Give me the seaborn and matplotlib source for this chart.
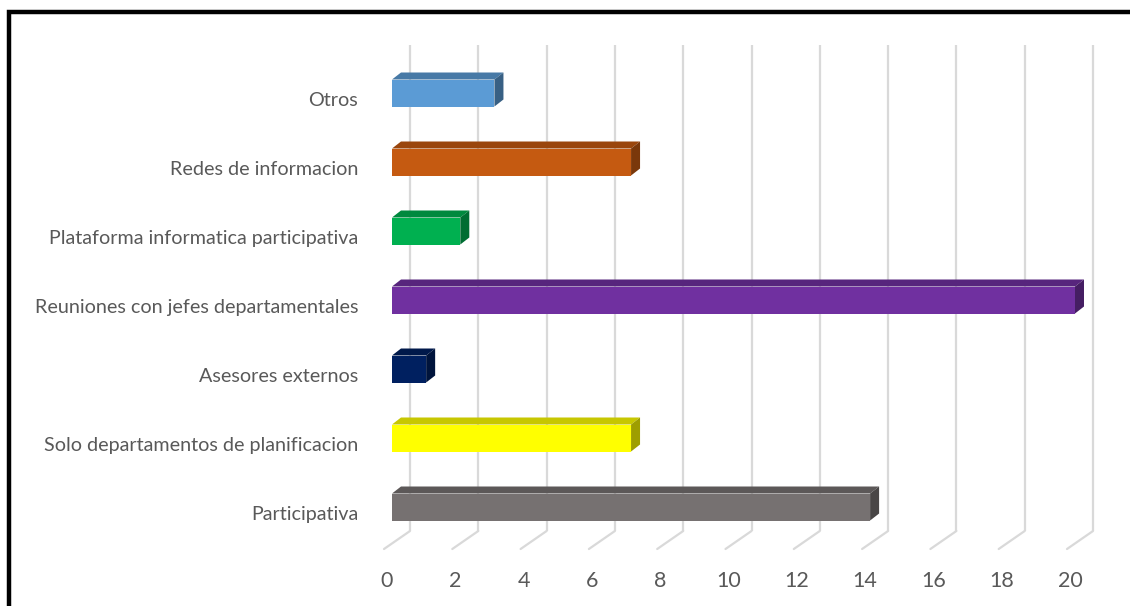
import numpy as np
import pandas as pd
import matplotlib
matplotlib.use("Agg")
import matplotlib.pyplot as plt
import matplotlib.transforms as mtransforms
from matplotlib.patches import Polygon, Rectangle
import seaborn as sns

# ---- data ----
categories = ["Otros", "Redes de informacion", "Plataforma informatica participativa",
              "Reuniones con jefes departamentales", "Asesores externos",
              "Solo departamentos de planificacion", "Participativa"]
values = [3, 7, 2, 20, 1, 7, 14]
front_colors = ["#5B9BD5", "#C55A11", "#00B050", "#7030A0", "#002060", "#FFFF00", "#767171"]
xticks = [0, 2, 4, 6, 8, 10, 12, 14, 16, 18, 20]

sns.set_theme(style="white")
plt.rcParams['font.family'] = ['Lato', 'DejaVu Sans']

W, H, DPI = 1130, 606, 100
fig = plt.figure(figsize=(W / DPI, H / DPI), dpi=DPI)
fig.patch.set_facecolor("white")

# axes placement (pixels from top-left)
x0_px, x20_px = 392, 1075
top_px, bot_px = 45, 549
ax = fig.add_axes([x0_px / W, 1 - bot_px / H, (x20_px - x0_px) / W, (bot_px - top_px) / H])

df = pd.DataFrame({"cat": categories, "val": values})
sns.barplot(data=df, x="val", y="cat", hue="cat", palette=front_colors, orient="h",
            width=27 / 69, legend=False, ax=ax, saturation=1, zorder=5,
            edgecolor="none")

ax.set_xlim(0, 20)
ax.set_ylim((bot_px - 93) / 69, (top_px - 93) / 69)
for s in ax.spines.values():
    s.set_visible(False)
ax.set_xticks([])
ax.set_xlabel("")
ax.set_ylabel("")
ax.tick_params(axis="y", length=0, pad=21.5, labelsize=14.2, labelcolor="#595959")
shift_down = mtransforms.ScaledTranslation(-4 / DPI, -6 / DPI, fig.dpi_scale_trans)
for lab in ax.get_yticklabels():
    lab.set_fontfamily(["Lato", "DejaVu Sans"])
    lab.set_transform(lab.get_transform() + shift_down)

# back-wall grid + floor lines (offset in pixels)
back_dx, floor_dx = 18, -8
floor_back_axes = (bot_px - 531) / (bot_px - top_px)
grid_col = "#D9D9D9"
t_back = mtransforms.offset_copy(ax.get_xaxis_transform(), fig=fig, x=back_dx, y=0, units="dots")
t_front = mtransforms.offset_copy(ax.get_xaxis_transform(), fig=fig, x=floor_dx, y=0, units="dots")
t_lab = mtransforms.offset_copy(ax.get_xaxis_transform(), fig=fig, x=-5, y=0, units="dots")
for xv in xticks:
    ax.plot([xv, xv], [floor_back_axes, 1.0], transform=t_back, color=grid_col, lw=1.6,
            zorder=1, clip_on=False, solid_capstyle="butt")
    pb = t_back.transform((xv, floor_back_axes))
    pf = t_front.transform((xv, 0.0))
    fig.add_artist(plt.Line2D([pb[0], pf[0]], [pb[1], pf[1]], transform=None,
                              color=grid_col, lw=1.6, zorder=1))
    ax.text(xv, -0.063, str(xv), transform=t_lab, ha="center", va="center",
            fontsize=15.5, color="#595959", fontfamily=["Lato", "DejaVu Sans"])

# 3D faces of bars
fig.canvas.draw()
ddx, ddy = 9, 7


def shade(c, f):
    rgb = np.array(matplotlib.colors.to_rgb(c))
    return tuple(rgb * f)


for patch, col in zip(ax.patches, front_colors):
    x, y = patch.get_x(), patch.get_y()
    w, h = patch.get_width(), patch.get_height()
    (ax_l, ay_a), (ax_r, ay_b) = ax.transData.transform([(x, y), (x + w, y + h)])
    ytop = max(ay_a, ay_b)
    ybot = min(ay_a, ay_b)
    top = [(ax_l, ytop), (ax_r, ytop), (ax_r + ddx, ytop + ddy), (ax_l + ddx, ytop + ddy)]
    side = [(ax_r, ytop), (ax_r + ddx, ytop + ddy), (ax_r + ddx, ybot + ddy), (ax_r, ybot)]
    fig.add_artist(Polygon(top, closed=True, transform=None, facecolor=shade(col, 0.78),
                           edgecolor="none", zorder=6))
    fig.add_artist(Polygon(side, closed=True, transform=None, facecolor=shade(col, 0.62),
                           edgecolor="none", zorder=6))

# outer border (runs off right/bottom)
fig.add_artist(Rectangle((9 / W, -0.05), 1.2, (H - 11.5) / H + 0.05, transform=fig.transFigure,
                         fill=False, edgecolor="black", lw=3.2, zorder=10))

# cut-off caption
fig.text(2 / W, 1 + 7 / H, "Figura 5.", fontsize=13, fontweight="bold", fontstyle="italic",
         color="black", va="baseline", ha="left", fontfamily=["Lato", "DejaVu Sans"])
fig.text(78 / W, 1 + 7 / H, "Fines", fontsize=13, fontstyle="italic",
         color="black", va="baseline", ha="left", fontfamily=["Lato", "DejaVu Sans"])

fig.savefig("out.png", dpi=DPI)
